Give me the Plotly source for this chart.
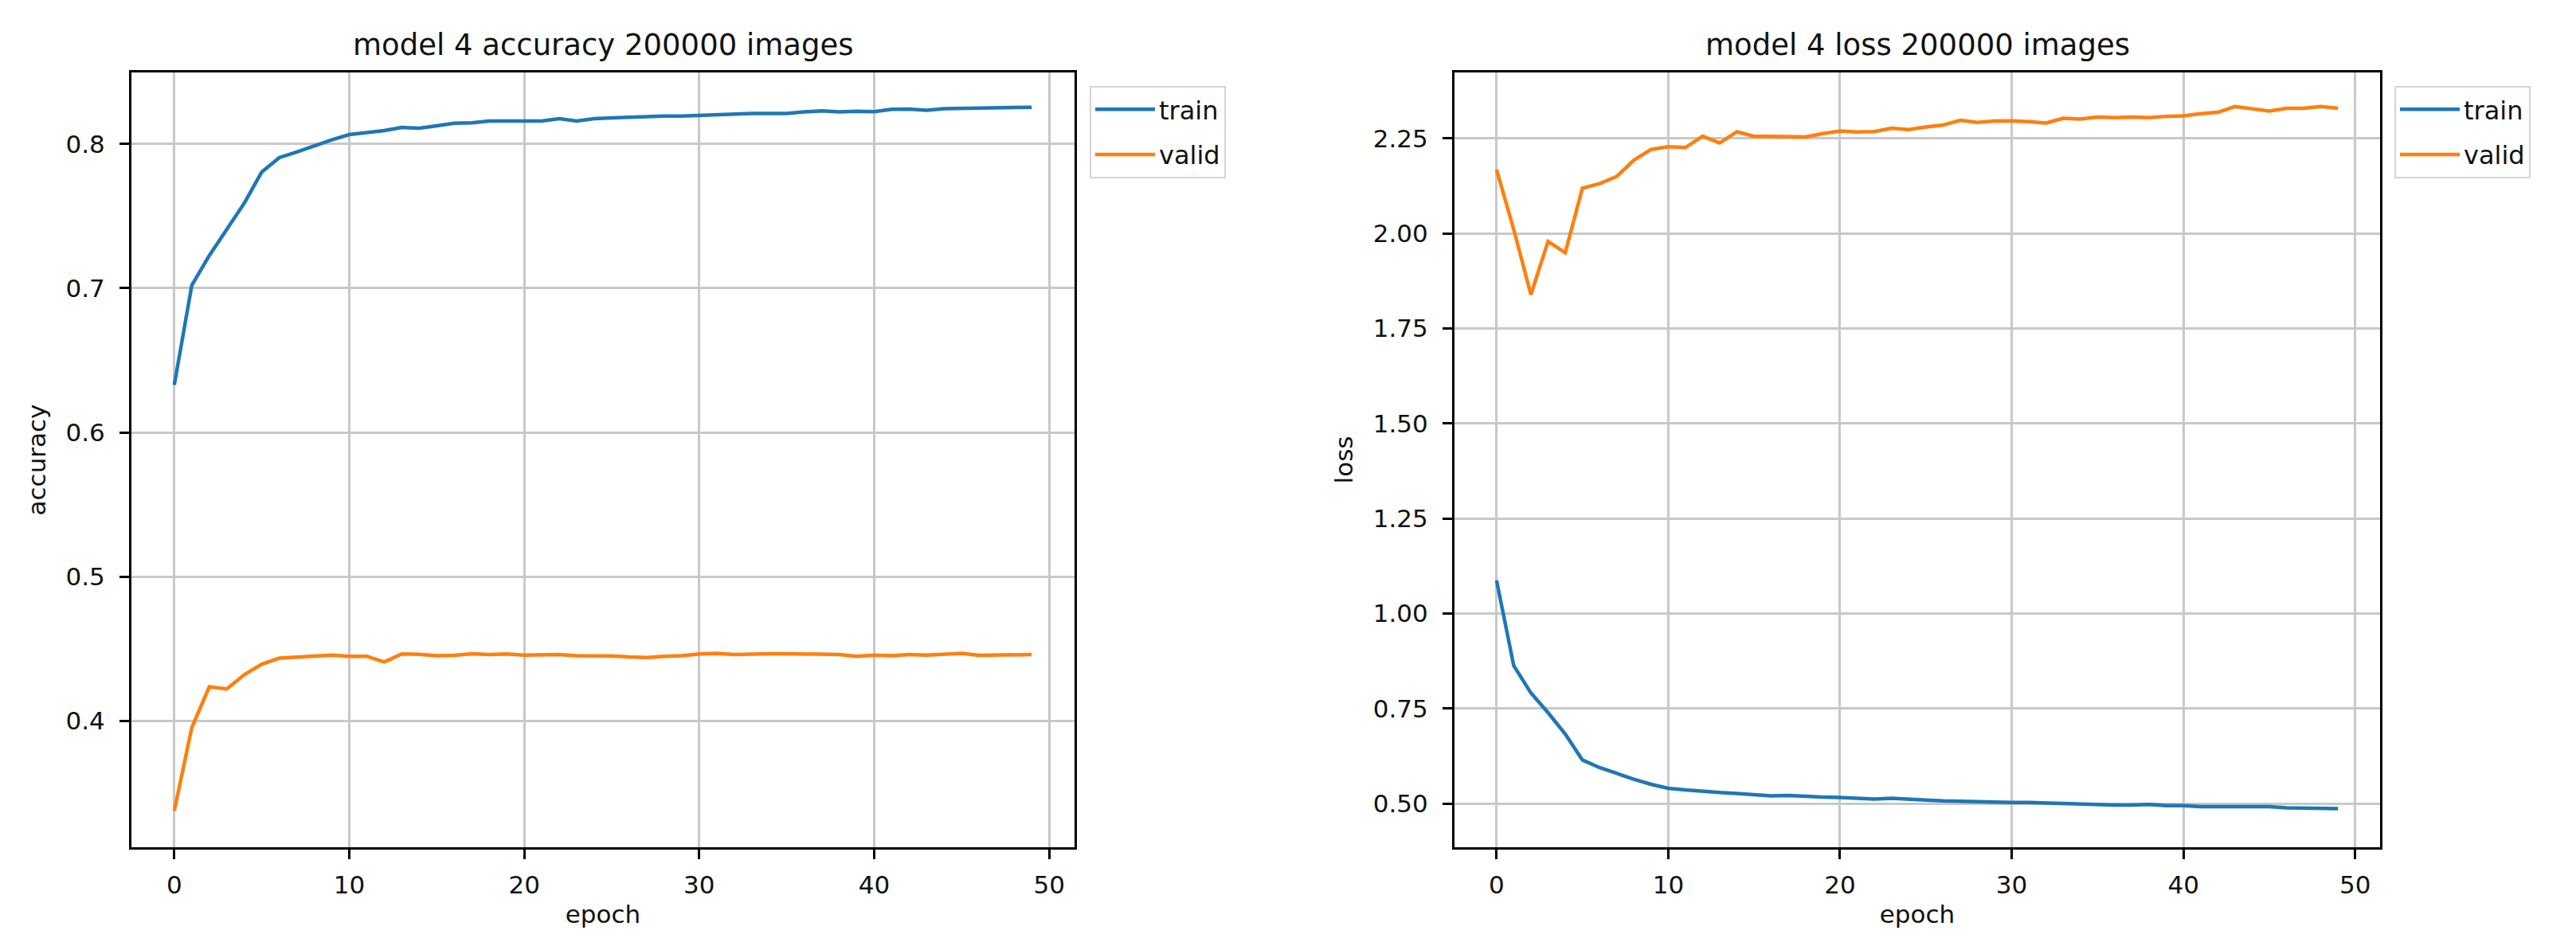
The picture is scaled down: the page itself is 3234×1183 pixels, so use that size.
import plotly.graph_objects as go

# ---------------- data ----------------
epochs = list(range(50))

acc_train = [0.633, 0.702, 0.7227, 0.741, 0.759, 0.7807, 0.7906, 0.7945, 0.799, 0.803,
             0.8066, 0.8077, 0.8094, 0.8116, 0.811, 0.8127, 0.8145, 0.8148, 0.816, 0.816,
             0.816, 0.816, 0.8177, 0.816, 0.8177, 0.8182, 0.8184, 0.8188, 0.8195, 0.8195,
             0.820, 0.8204, 0.821, 0.8213, 0.8213, 0.8213, 0.8223, 0.823, 0.8223, 0.8228,
             0.8225, 0.8241, 0.8243, 0.8234, 0.8245, 0.8246, 0.825, 0.825, 0.8252, 0.8256]

acc_valid = [0.3375, 0.3952, 0.4235, 0.422, 0.4319, 0.4392, 0.4434, 0.444, 0.4449, 0.4455,
             0.4447, 0.4447, 0.4407, 0.4463, 0.446, 0.445, 0.4453, 0.4465, 0.4459, 0.4463,
             0.4455, 0.4455, 0.4459, 0.445, 0.445, 0.4449, 0.4442, 0.4438, 0.4447, 0.445,
             0.4463, 0.4467, 0.4459, 0.4465, 0.4465, 0.4465, 0.4465, 0.4465, 0.4459, 0.4447,
             0.4455, 0.445, 0.4459, 0.4455, 0.4461, 0.4467, 0.4453, 0.4453, 0.4453, 0.4459]

loss_train = [1.087, 0.863, 0.791, 0.739, 0.683, 0.6146, 0.5945, 0.5785, 0.564, 0.5505,
              0.540, 0.536, 0.532, 0.529, 0.5265, 0.524, 0.520, 0.521, 0.518, 0.517,
              0.516, 0.5145, 0.512, 0.5136, 0.5104, 0.509, 0.507, 0.5056, 0.5064, 0.504,
              0.503, 0.503, 0.5016, 0.499, 0.499, 0.4984, 0.496, 0.496, 0.4976, 0.4944,
              0.4944, 0.492, 0.492, 0.4912, 0.4904, 0.492, 0.4888, 0.488, 0.488, 0.4864]

loss_valid = [2.168, 2.0105, 1.839, 1.979, 1.949, 2.119, 2.131, 2.150, 2.193, 2.221,
              2.228, 2.226, 2.2556, 2.238, 2.2675, 2.2556, 2.2556, 2.2556, 2.254, 2.2626,
              2.2696, 2.2668, 2.268, 2.2766, 2.273, 2.280, 2.285, 2.2976, 2.292, 2.2955,
              2.296, 2.294, 2.2906, 2.303, 2.301, 2.306, 2.3046, 2.306, 2.3046, 2.308,
              2.3095, 2.315, 2.3186, 2.334, 2.329, 2.322, 2.329, 2.329, 2.334, 2.329]

x_ticks = [0, 10, 20, 30, 40, 50]
acc_ticks = [0.4, 0.5, 0.6, 0.7, 0.8]
loss_ticks = [0.5, 0.75, 1.0, 1.25, 1.5, 1.75, 2.0, 2.25]

series_names = ["train", "valid"]
titles = ["model 4 accuracy 200000 images", "model 4 loss 200000 images"]
y_titles = ["accuracy", "loss"]
x_title = "epoch"

# ---------------- style ----------------
W, H = 3234, 1183
BLUE, ORANGE = "#1f77b4", "#ff7f0e"
FONT = "DejaVu Sans"
TXT = "#111111"
GRID = "#c8c8c8"
LW = 4.5

fig = go.Figure()

fig.add_trace(go.Scatter(x=epochs, y=acc_train, mode="lines", name=series_names[0],
                         line=dict(color=BLUE, width=LW), xaxis="x", yaxis="y",
                         legend="legend", legendgroup="a1"))
fig.add_trace(go.Scatter(x=epochs, y=acc_valid, mode="lines", name=series_names[1],
                         line=dict(color=ORANGE, width=LW), xaxis="x", yaxis="y",
                         legend="legend", legendgroup="a2"))
fig.add_trace(go.Scatter(x=epochs, y=loss_train, mode="lines", name=series_names[0],
                         line=dict(color=BLUE, width=LW), xaxis="x2", yaxis="y2",
                         legend="legend2", legendgroup="b1"))
fig.add_trace(go.Scatter(x=epochs, y=loss_valid, mode="lines", name=series_names[1],
                         line=dict(color=ORANGE, width=LW), xaxis="x2", yaxis="y2",
                         legend="legend2", legendgroup="b2"))

def px_x(p):
    return p / W

def px_y(p):
    return 1 - p / H

common_axis = dict(
    showline=True, linecolor="black", linewidth=3, mirror=True,
    ticks="outside", ticklen=12, tickwidth=3, tickcolor="black",
    showgrid=True, gridcolor=GRID, gridwidth=2.5, zeroline=False,
    tickfont=dict(family=FONT, size=31, color=TXT),
)

x_extra = dict(ticklabelstandoff=6)
y_extra = dict(ticklabelstandoff=12)

y_dom = [px_y(1056), px_y(83)]

legend_common = dict(
    xanchor="left", yanchor="top",
    bgcolor="rgba(255,255,255,0.9)", bordercolor="#d4d4d4", borderwidth=2,
    font=dict(family=FONT, size=32, color=TXT), tracegroupgap=12,
    itemwidth=75,
)

fig.update_layout(
    width=W, height=H,
    margin=dict(l=0, r=0, t=0, b=0),
    paper_bgcolor="white", plot_bgcolor="white",
    font=dict(family=FONT, size=31, color=TXT),
    xaxis=dict(common_axis, **x_extra, domain=[px_x(157), px_x(1341)], range=[-2.45, 51.45],
               tickvals=x_ticks, anchor="y",
               title=dict(text=x_title, font=dict(size=31), standoff=10)),
    yaxis=dict(common_axis, **y_extra, domain=y_dom, range=[0.3122, 0.8497],
               tickvals=acc_ticks, tickformat=".1f", anchor="x",
               title=dict(text=y_titles[0], font=dict(size=31), standoff=16)),
    xaxis2=dict(common_axis, **x_extra, domain=[px_x(1818), px_x(2980)], range=[-2.45, 51.45],
                tickvals=x_ticks, anchor="y2",
                title=dict(text=x_title, font=dict(size=31), standoff=10)),
    yaxis2=dict(common_axis, **y_extra, domain=y_dom, range=[0.385, 2.4235],
                tickvals=loss_ticks, tickformat=".2f", anchor="x2",
                title=dict(text=y_titles[1], font=dict(size=31), standoff=16)),
    legend=dict(legend_common, x=px_x(1360), y=px_y(100)),
    legend2=dict(legend_common, x=px_x(2998), y=px_y(100)),
    annotations=[
        dict(text=titles[0], x=px_x((157 + 1341) / 2), y=px_y(72), xref="paper", yref="paper",
             xanchor="center", yanchor="bottom", showarrow=False,
             font=dict(family=FONT, size=37, color=TXT)),
        dict(text=titles[1], x=px_x((1818 + 2980) / 2), y=px_y(72), xref="paper", yref="paper",
             xanchor="center", yanchor="bottom", showarrow=False,
             font=dict(family=FONT, size=37, color=TXT)),
    ],
)

fig.write_html("out.html")
